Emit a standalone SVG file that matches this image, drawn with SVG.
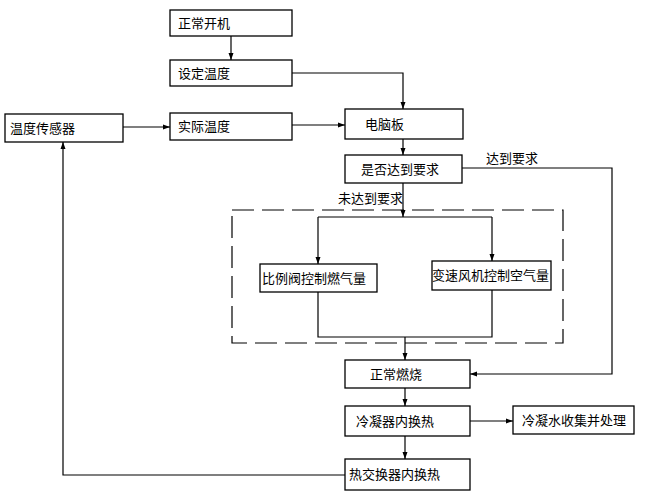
<svg xmlns="http://www.w3.org/2000/svg" width="653" height="500" viewBox="0 0 653 500">
<style>
.b{fill:#fff;stroke:#000;stroke-width:1.3}
.t{font-family:"Noto Sans CJK SC","Liberation Sans",sans-serif;font-size:13px;fill:#000}
.c{fill:none;stroke:#000;stroke-width:1.2}
</style>
<defs><marker id="a" markerWidth="8" markerHeight="8" refX="7" refY="4" orient="auto" markerUnits="userSpaceOnUse"><path d="M0,1.5 L7,4 L0,6.5 z" fill="#000"/></marker></defs>
<rect width="653" height="500" fill="#fff"/>
<g id="connectors" class="c">
<path d="M231,36 V60" marker-end="url(#a)"/>
<path d="M292,73 H403 V109" marker-end="url(#a)"/>
<path d="M123,127 H170" marker-end="url(#a)"/>
<path d="M292,125 H345" marker-end="url(#a)"/>
<path d="M403,139 V155" marker-end="url(#a)"/>
<path d="M403,183 V217" marker-end="url(#a)"/>
<path d="M462,168 H612 V374 H470" marker-end="url(#a)"/>
<rect x="232" y="210" width="331" height="133" stroke-dasharray="22,8"/>
<path d="M318,217 H492"/>
<path d="M318,217 V264" marker-end="url(#a)"/>
<path d="M492,217 V261" marker-end="url(#a)"/>
<path d="M318,292 V337 H492 V290"/>
<path d="M405,337 V360" marker-end="url(#a)"/>
<path d="M405,388 V406" marker-end="url(#a)"/>
<path d="M470,421 H513" marker-end="url(#a)"/>
<path d="M405,436 V459" marker-end="url(#a)"/>
<path d="M345,475 H63 V142" marker-end="url(#a)"/>
</g>
<g id="n1"><rect class="b" x="170" y="10" width="122" height="26"/><text class="t" x="178" y="28">正常开机</text></g>
<g id="n2"><rect class="b" x="170" y="60" width="122" height="26"/><text class="t" x="178" y="78">设定温度</text></g>
<g id="n3"><rect class="b" x="5" y="114" width="118" height="28"/><text class="t" x="10" y="133">温度传感器</text></g>
<g id="n4"><rect class="b" x="170" y="113" width="122" height="27"/><text class="t" x="178" y="131">实际温度</text></g>
<g id="n5"><rect class="b" x="345" y="109" width="118" height="30"/><text class="t" x="365" y="129">电脑板</text></g>
<g id="n6"><rect class="b" x="345" y="155" width="117" height="28"/><text class="t" x="361" y="174">是否达到要求</text></g>
<text class="t" x="486" y="163">达到要求</text>
<text class="t" x="338" y="203">未达到要求</text>
<g id="n7"><rect class="b" x="260" y="264" width="117" height="28"/><text class="t" x="262" y="283">比例阀控制燃气量</text></g>
<g id="n8"><rect class="b" x="432" y="261" width="119" height="29"/><text class="t" x="432" y="280">变速风机控制空气量</text></g>
<g id="n9"><rect class="b" x="345" y="360" width="125" height="28"/><text class="t" x="370" y="379">正常燃烧</text></g>
<g id="n10"><rect class="b" x="345" y="406" width="125" height="30"/><text class="t" x="356" y="426">冷凝器内换热</text></g>
<g id="n11"><rect class="b" x="513" y="406" width="121" height="28"/><text class="t" x="522" y="425">冷凝水收集并处理</text></g>
<g id="n12"><rect class="b" x="345" y="459" width="125" height="31"/><text class="t" x="349" y="479">热交换器内换热</text></g>
</svg>
